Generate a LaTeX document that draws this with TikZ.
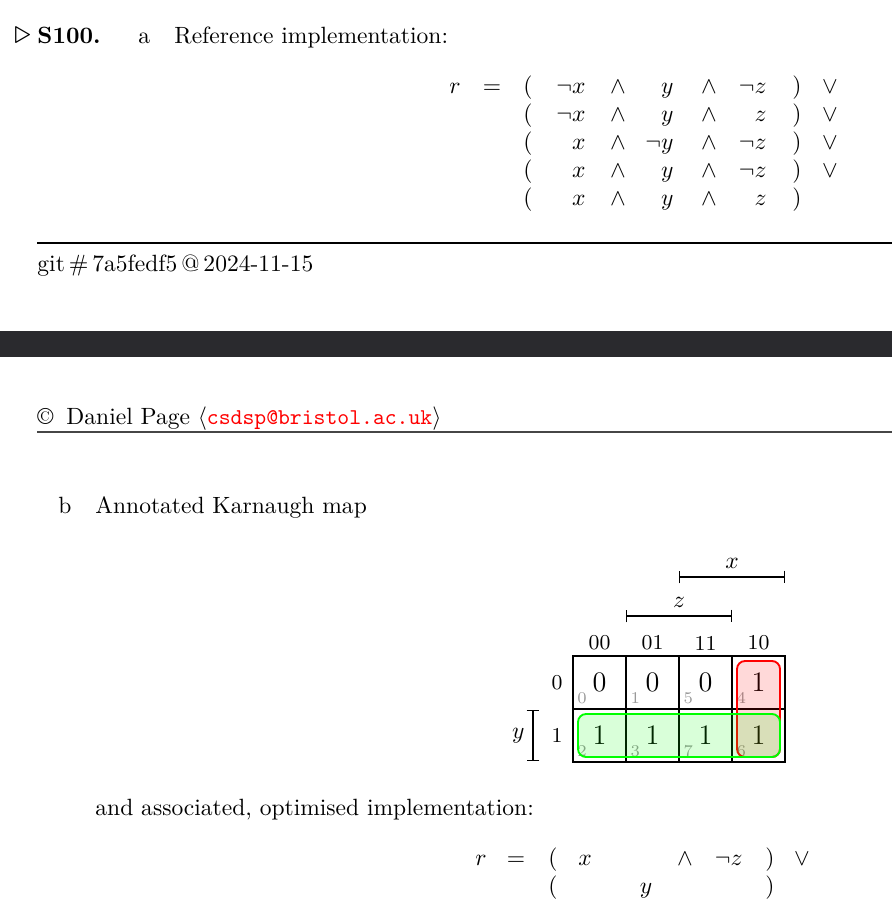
\documentclass[tikz,border=0pt]{standalone}
\usetikzlibrary{arrows.meta,calc}

\definecolor{bandgrey}{RGB}{42,42,46}
\definecolor{rulegrey}{RGB}{70,70,70}

\begin{document}
\begin{tikzpicture}[x=0.425pt,y=-0.425pt,
	txt/.style={anchor=base west,inner sep=0},
	op/.style={anchor=base,inner sep=0},
	lit/.style={anchor=base east,inner sep=0},
	cell/.style={draw,line width=0.7pt,minimum size=53*0.425pt,inner sep=0,font=\large},
	idx/.style={inner sep=0,font=\scriptsize,text=gray!80},
	hdr/.style={inner sep=0,font=\small},
	brk/.style={line width=0.6pt,{Bar[width=5.5pt]}-{Bar[width=5.5pt]}},
	grp/.style={line width=0.8pt,rounded corners=3.4pt}]
	\useasboundingbox (0,0) rectangle (892,920);
	
	% part a
	\node[txt,font=\Large] (tri) at (14,44) {$\triangleright$};
	\node[txt] (qid) at (37,44) {\textbf{S100.}};
	\node[txt] (pa) at (138,44) {a};
	\node[txt] (ta) at (174,44) {Reference implementation:};
	
	\node[op] (r1) at (455,94) {$r$};
	\node[op] (eq1) at (492,94) {$=$};
	\foreach \i/\xl/\yl/\zl in {0/\neg x/y/\neg z,1/\neg x/y/z,2/x/\neg y/\neg z,3/x/y/\neg z,4/x/y/z}{
	\node[op] (lp\i) at (528,94+28*\i) {$($};
	\node[lit] (la\i) at (586,94+28*\i) {$\xl$};
	\node[op] (an\i) at (618,94+28*\i) {$\wedge$};
	\node[lit] (lb\i) at (674,94+28*\i) {$\yl$};
	\node[op] (bn\i) at (709,94+28*\i) {$\wedge$};
	\node[lit] (lc\i) at (767,94+28*\i) {$\zl$};
	\node[op] (rp\i) at (797,94+28*\i) {$)$};
	}
	\foreach \i in {0,...,3}
	\node[op] (or\i) at (830,94+28*\i) {$\vee$};
	
	\draw[line width=0.5pt] (37,243) -- (892,243);
	\node[txt] (git) at (37,272) {git\,\#\,7a5fedf5\,@\,2024-11-15};
	
	\fill[bandgrey] (0,331) rectangle (892,357);
	
	\node[txt] (cpy) at (37,424) {\copyright};
	\node[txt] (auth) at (66,424) {Daniel Page $\langle$\textcolor{red}{\fontsize{9.6}{12}\ttfamily csdsp@bristol.ac.uk}$\rangle$};
	\draw[rulegrey,line width=0.5pt] (37,432) -- (892,432);
	
	% part b
	\node[txt] (pb) at (58,513) {b};
	\node[txt] (tb) at (95,513) {Annotated Karnaugh map};
	
	\foreach \col/\row/\v/\k in {0/0/0/0,1/0/0/1,2/0/0/5,3/0/1/4,0/1/1/2,1/1/1/3,2/1/1/7,3/1/1/6}{
	\node[cell] (k\row\col) at (599.5+53*\col,682.5+53*\row) {\v};
	\node[idx] (n\row\col) at ($(k\row\col.south west)+(10,-12)$) {\k};
	}
	\foreach \col/\h in {0/00,1/01,2/11,3/10}
	\node[hdr] (h\col) at (599.5+53*\col,643) {\h};
	\node[hdr] (rl0) at (557,683) {0};
	\node[hdr] (rl1) at (557,735) {1};
	
	\draw[grp,red,fill=red,fill opacity=0.15] (737,661) rectangle (780,757);
	\draw[grp,green,fill=green,fill opacity=0.15] (578,714) rectangle (780,757);
	
	\coordinate (xl) at (679,577); \coordinate (xr) at (785,577);
	\draw[brk] (xl) -- node[above] (xlab) {$x$} (xr);
	\coordinate (zl) at (626,616); \coordinate (zr) at (732,616);
	\draw[brk] (zl) -- node[above] (zlab) {$z$} (zr);
	\coordinate (yt) at (533,710); \coordinate (yb) at (533,761);
	\draw[brk] (yt) -- node[left] (ylab) {$y$} (yb);
	
	\node[txt] (tc) at (95,815) {and associated, optimised implementation:};
	
	\node[op] (r2) at (481,865) {$r$};
	\node[op] (eq2) at (516,865) {$=$};
	\node[op] (lp5) at (553,865) {$($};
	\node[op] (la5) at (585,865) {$x$};
	\node[op] (bn5) at (685,865) {$\wedge$};
	\node[lit] (lc5) at (743,865) {$\neg z$};
	\node[op] (rp5) at (770,865) {$)$};
	\node[op] (or5) at (802,865) {$\vee$};
	\node[op] (lp6) at (553,893) {$($};
	\node[op] (lb6) at (646,893) {$y$};
	\node[op] (rp6) at (770,893) {$)$};
\end{tikzpicture}
\end{document}
